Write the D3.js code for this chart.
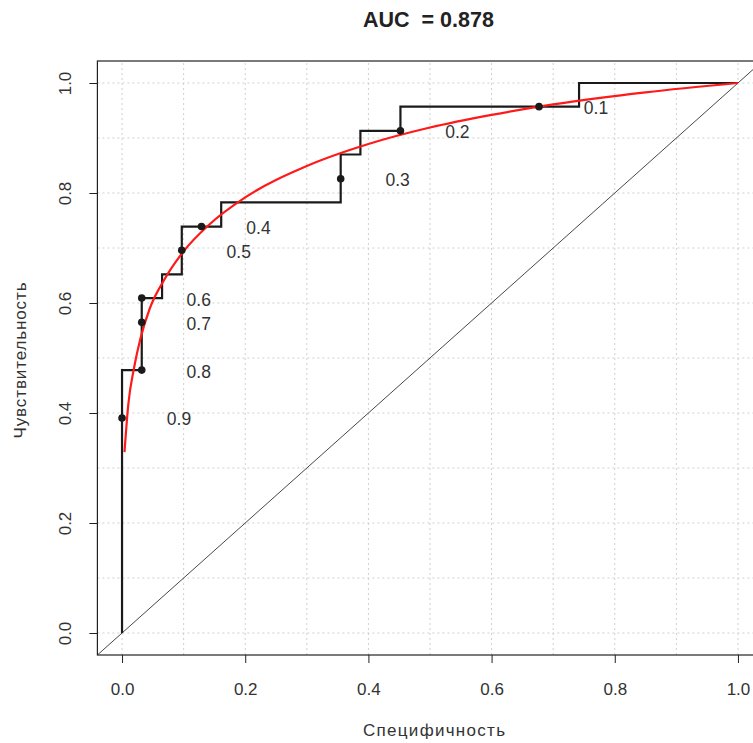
<!DOCTYPE html>
<html>
<head>
<meta charset="utf-8">
<script src="https://cdn.jsdelivr.net/npm/d3@7"></script>
<style>
  body { margin: 0; background: #fff; }
  svg { display: block; font-family: "Liberation Sans", Arial, sans-serif; }
</style>
</head>
<body>
<div id="roc"></div>
<script>
const W = 753, H = 743;

// empirical ROC step curve (1 - specificity, sensitivity)
const stepFpr = [0, 0, 0.032, 0.032, 0.065, 0.065, 0.097, 0.097, 0.161, 0.161, 0.355, 0.355, 0.387, 0.387, 0.452, 0.452, 0.742, 0.742, 1];
const stepTpr = [0, 0.478, 0.478, 0.609, 0.609, 0.652, 0.652, 0.739, 0.739, 0.783, 0.783, 0.870, 0.870, 0.913, 0.913, 0.957, 0.957, 1, 1];

// threshold points and their labels
const cutFpr = [0, 0.032, 0.032, 0.032, 0.097, 0.129, 0.355, 0.452, 0.677];
const cutTpr = [0.391, 0.478, 0.565, 0.609, 0.696, 0.739, 0.826, 0.913, 0.957];
const cutLabels = ["0.9", "0.8", "0.7", "0.6", "0.5", "0.4", "0.3", "0.2", "0.1"];

// smoothed ROC curve (red)
const smoothFpr = [0.004, 0.01, 0.02, 0.03, 0.045, 0.07, 0.1, 0.14, 0.2, 0.3, 0.4, 0.5, 0.6, 0.7, 0.85, 1];
const smoothTpr = [0.329, 0.414, 0.485, 0.536, 0.59, 0.645, 0.694, 0.741, 0.792, 0.849, 0.889, 0.919, 0.942, 0.961, 0.983, 1];

const ticks = [0, 0.2, 0.4, 0.6, 0.8, 1.0];
const gridVals = [0, 0.1, 0.2, 0.3, 0.4, 0.5, 0.6, 0.7, 0.8, 0.9, 1.0];

const titleText = "AUC  = 0.878";
const xTitle = "Специфичность";
const yTitle = "Чувствительность";

const x = d3.scaleLinear().domain([-0.04, 1.04]).range([97.4, 762.6]);
const y = d3.scaleLinear().domain([-0.04, 1.04]).range([655, 61]);

const svg = d3.select("#roc").append("svg")
    .attr("width", W)
    .attr("height", H);

svg.append("defs").append("clipPath").attr("id", "plotclip")
    .append("rect")
    .attr("x", x(-0.04)).attr("y", y(1.04))
    .attr("width", x(1.04) - x(-0.04))
    .attr("height", y(-0.04) - y(1.04));

// grid
const grid = svg.append("g")
    .attr("stroke", "#cfcfcf")
    .attr("stroke-width", 1)
    .attr("stroke-dasharray", "2,3");
grid.selectAll(".gv").data(gridVals).enter().append("line")
    .attr("x1", d => x(d)).attr("x2", d => x(d))
    .attr("y1", y(-0.04)).attr("y2", y(1.04));
grid.selectAll(".gh").data(gridVals).enter().append("line")
    .attr("y1", d => y(d)).attr("y2", d => y(d))
    .attr("x1", x(-0.04)).attr("x2", x(1.04));

const plot = svg.append("g").attr("clip-path", "url(#plotclip)");

// diagonal
plot.append("line")
    .attr("x1", x(-0.04)).attr("y1", y(-0.04))
    .attr("x2", x(1.04)).attr("y2", y(1.04))
    .attr("stroke", "#333")
    .attr("stroke-width", 0.9);

// step curve
const stepPts = stepFpr.map((d, i) => [d, stepTpr[i]]);
plot.append("path")
    .datum(stepPts)
    .attr("fill", "none")
    .attr("stroke", "#1a1a1a")
    .attr("stroke-width", 2.2)
    .attr("d", d3.line().x(d => x(d[0])).y(d => y(d[1])));

// smooth curve
const smoothPts = smoothFpr.map((d, i) => [d, smoothTpr[i]]);
plot.append("path")
    .datum(smoothPts)
    .attr("fill", "none")
    .attr("stroke", "#ff1a1a")
    .attr("stroke-width", 2.2)
    .attr("d", d3.line().curve(d3.curveMonotoneX).x(d => x(d[0])).y(d => y(d[1])));

// threshold points
const cuts = cutFpr.map((d, i) => ({ fpr: d, tpr: cutTpr[i], label: cutLabels[i] }));
plot.selectAll(".pt").data(cuts).enter().append("circle")
    .attr("cx", d => x(d.fpr))
    .attr("cy", d => y(d.tpr))
    .attr("r", 3.8)
    .attr("fill", "#1a1a1a");

svg.selectAll(".cutlab").data(cuts).enter().append("text")
    .attr("x", d => x(d.fpr) + 57)
    .attr("y", d => y(d.tpr) + 7.5)
    .attr("text-anchor", "middle")
    .attr("font-size", "17.5px")
    .attr("fill", "#333")
    .text(d => d.label);

// box
svg.append("rect")
    .attr("x", x(-0.04)).attr("y", y(1.04))
    .attr("width", x(1.04) - x(-0.04))
    .attr("height", y(-0.04) - y(1.04))
    .attr("fill", "none")
    .attr("stroke", "#222")
    .attr("stroke-width", 1.2);

// axes
const xAxis = svg.append("g")
    .attr("transform", `translate(0,${y(-0.04)})`)
    .call(d3.axisBottom(x).tickValues(ticks).tickFormat(d3.format(".1f")).tickSize(8).tickPadding(20));
xAxis.select(".domain").remove();
xAxis.selectAll("line").attr("stroke", "#222");
xAxis.selectAll("text")
    .attr("font-size", "17px")
    .attr("font-family", "Liberation Sans, Arial, sans-serif")
    .attr("fill", "#333");

const yAxis = svg.append("g")
    .attr("transform", `translate(${x(-0.04)},0)`)
    .call(d3.axisLeft(y).tickValues(ticks).tickFormat(d3.format(".1f")).tickSize(8));
yAxis.select(".domain").remove();
yAxis.selectAll("line").attr("stroke", "#222");
yAxis.selectAll("text")
    .attr("transform", "rotate(-90)")
    .attr("x", 0)
    .attr("y", -26)
    .attr("dy", 0)
    .style("text-anchor", "middle")
    .attr("font-size", "17px")
    .attr("font-family", "Liberation Sans, Arial, sans-serif")
    .attr("fill", "#333");

// titles
svg.append("text")
    .attr("x", 428.5)
    .attr("y", 26.5)
    .attr("text-anchor", "middle")
    .attr("font-size", "21.5px")
    .attr("font-weight", "bold")
    .attr("fill", "#222")
    .style("white-space", "pre")
    .text(titleText);

svg.append("text")
    .attr("x", 434)
    .attr("y", 736)
    .attr("text-anchor", "middle")
    .attr("font-size", "17px")
    .attr("fill", "#333")
    .attr("textLength", 142)
    .attr("lengthAdjust", "spacing")
    .text(xTitle);

svg.append("text")
    .attr("transform", "translate(26,360.5) rotate(-90)")
    .attr("text-anchor", "middle")
    .attr("font-size", "17px")
    .attr("fill", "#333")
    .attr("textLength", 156)
    .attr("lengthAdjust", "spacing")
    .text(yTitle);
</script>
</body>
</html>
